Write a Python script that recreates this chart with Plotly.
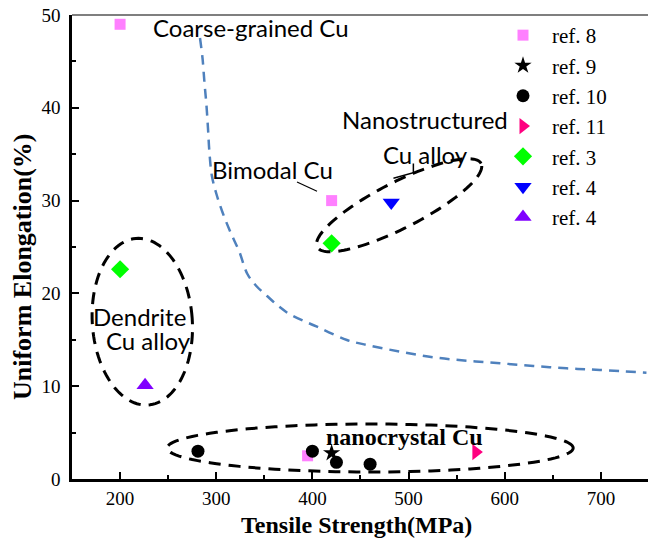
import numpy as np
import plotly.graph_objects as go

# ---------------- data ----------------
ref8_x = [200, 420, 395]
ref8_y = [49.0, 30.0, 2.5]
ref9_x = [420]
ref9_y = [2.8]
ref10_x = [281, 400, 425, 460]
ref10_y = [3.0, 3.0, 1.8, 1.6]
ref11_x = [570]
ref11_y = [2.9]
ref3_x = [200, 420]
ref3_y = [22.6, 25.4]
ref4a_x = [482]
ref4a_y = [29.8]
ref4b_x = [226]
ref4b_y = [10.1]

# blue dashed guide curve
curve_x = [283.1, 285.7, 287.7, 289.8, 291.4, 292.9, 295.5, 300.2, 306.4, 314.7,
           324.1, 332.4, 341.7, 352.9, 364.6, 377.0, 404.8, 435.9, 456.7, 491.3,
           525.9, 560.5, 595.1, 629.7, 664.4, 699.0, 747.4]
curve_y = [47.52, 45.37, 42.78, 40.30, 37.82, 35.24, 32.65, 30.71, 28.77, 26.62,
           24.46, 22.09, 20.80, 19.72, 18.64, 17.72, 16.41, 14.98, 14.44, 13.72,
           13.11, 12.75, 12.47, 12.18, 11.93, 11.75, 11.45]

x_ticks = [200, 300, 400, 500, 600, 700]
y_ticks = [0, 10, 20, 30, 40, 50]

# ---------------- layout geometry ----------------
W, H = 648, 549
ML, MR, MT, MB = 72, 0, 15, 70
XR = [150, 749]
YR = [0, 50]
kx = (W - ML - MR) / (XR[1] - XR[0])   # px per MPa
ky = (H - MT - MB) / (YR[1] - YR[0])   # px per %

SERIF = "Liberation Serif"
SANS = "Lato"


def ellipse_path(cx, cy, a_px, b_px, ang_deg, n=120):
    t = np.linspace(0, 2 * np.pi, n)
    th = np.deg2rad(ang_deg)
    dx = a_px * np.cos(t) * np.cos(th) - b_px * np.sin(t) * np.sin(th)
    dy = a_px * np.cos(t) * np.sin(th) + b_px * np.sin(t) * np.cos(th)
    xs = cx + dx / kx
    ys = cy + dy / ky
    pts = [f"{x:.3f},{y:.3f}" for x, y in zip(xs, ys)]
    return "M " + " L ".join(pts) + " Z"


fig = go.Figure()

fig.add_trace(go.Scatter(x=curve_x, y=curve_y, mode="lines", showlegend=False,
                         line=dict(color="#4F81BD", width=2.5, dash="10px,7px",
                                   shape="spline", smoothing=1.0),
                         hoverinfo="skip"))

series = [
    ("ref. 8", ref8_x, ref8_y, "square", "#FF80FF", 11),
    ("ref. 9", ref9_x, ref9_y, "star", "black", 13),
    ("ref. 10", ref10_x, ref10_y, "circle", "black", 13),
    ("ref. 11", ref11_x, ref11_y, "triangle-right", "#FF0080", 14),
    ("ref. 3", ref3_x, ref3_y, "diamond", "#00FF00", 14),
    ("ref. 4", ref4a_x, ref4a_y, "triangle-down", "#0000FF", 15),
    ("ref. 4 ", ref4b_x, ref4b_y, "triangle-up", "#8000FF", 15),
]
for name, xs, ys, sym, col, sz in series:
    fig.add_trace(go.Scatter(x=xs, y=ys, mode="markers", name=name,
                             marker=dict(symbol=sym, color=col, size=sz,
                                         line=dict(width=0))))

# dashed ellipses
dash_blk = dict(color="black", width=3, dash="12px,8px")
fig.add_shape(type="path", xref="x", yref="y",
              path=ellipse_path(223.1, 16.95, 50, 83.5, 4), line=dash_blk)
fig.add_shape(type="path", xref="x", yref="y",
              path=ellipse_path(460.1, 3.34, 203, 24, 0), line=dash_blk)
fig.add_shape(type="path", xref="x", yref="y",
              path=ellipse_path(490.2, 29.5, 92, 23, 27), line=dash_blk)

# leader lines
fig.add_shape(type="line", xref="x", yref="y", x0=384.0, y0=32.0, x1=404.8, y1=31.0,
              line=dict(color="black", width=1.2))
fig.add_shape(type="path", xref="x", yref="y",
              path="M 484.3,32.4 L 505.0,33.0 L 505.0,34.0",
              line=dict(color="black", width=1.5))

# top frame line
fig.add_shape(type="line", xref="paper", yref="paper", x0=0, x1=1, y0=1, y1=1,
              line=dict(color="black", width=1.2))

# labels
def lab(text, x, y, font, size, bold=False, anchor="center"):
    fig.add_annotation(x=x, y=y, xref="x", yref="y", text=f"<b>{text}</b>" if bold else text,
                       showarrow=False, xanchor=anchor, yanchor="middle",
                       font=dict(family=font, size=size, color="black"))

lab("Coarse-grained Cu", 231.7, 48.7, SANS, 24, anchor="left")
lab("Bimodal Cu", 293.5, 33.3, SANS, 24, anchor="left")
lab("Nanostructured", 517.2, 38.7, SANS, 24)
lab("Cu alloy", 518.0, 35.0, SANS, 24)
lab("Dendrite", 219.7, 17.5, SANS, 24)
lab("Cu alloy", 229.6, 14.9, SANS, 24)
lab("nanocrystal Cu", 495.4, 4.5, SERIF, 24, bold=True)

# axis titles
fig.add_annotation(x=(356 - ML) / (W - ML - MR), y=(H - MB - 525) / (H - MT - MB),
                   xref="paper", yref="paper", text="<b>Tensile Strength(MPa)</b>",
                   showarrow=False, xanchor="center", yanchor="middle",
                   font=dict(family=SERIF, size=24, color="black"))
fig.add_annotation(x=(22 - ML) / (W - ML - MR), y=(H - MB - 267) / (H - MT - MB),
                   xref="paper", yref="paper", text="<b>Uniform Elongation(%)</b>",
                   showarrow=False, xanchor="center", yanchor="middle", textangle=-90,
                   font=dict(family=SERIF, size=26, color="black"))

fig.update_layout(
    width=W, height=H,
    margin=dict(l=ML, r=MR, t=MT, b=MB),
    paper_bgcolor="white", plot_bgcolor="white",
    font=dict(family=SERIF, size=19, color="black"),
    legend=dict(x=(494 - ML) / (W - ML - MR), y=1.0, xanchor="left", yanchor="top",
                bgcolor="rgba(0,0,0,0)", borderwidth=0,
                font=dict(family=SERIF, size=21, color="black"),
                tracegroupgap=0, itemwidth=48),
    xaxis=dict(range=XR, showgrid=False, zeroline=False, showline=True,
               linecolor="black", linewidth=2.5, ticks="inside", ticklen=7,
               tickwidth=2, tickcolor="black", tickvals=x_ticks,
               ticktext=[str(v) for v in x_ticks],
               minor=dict(ticks="inside", ticklen=4, tickwidth=1.5, tickcolor="black", dtick=50,
                          tick0=150),
               tickfont=dict(family=SERIF, size=19)),
    yaxis=dict(range=YR, showgrid=False, zeroline=False, showline=True,
               linecolor="black", linewidth=2.5, ticks="inside", ticklen=7,
               tickwidth=2, tickcolor="black", tickvals=y_ticks,
               ticktext=[str(v) for v in y_ticks],
               minor=dict(ticks="inside", ticklen=4, tickwidth=1.5, tickcolor="black", dtick=5,
                          tick0=0),
               ticklabelstandoff=5,
               tickfont=dict(family=SERIF, size=19)),
)

fig.write_html("out.html", config={"displayModeBar": False},
               post_script="document.body.style.margin='0';document.body.style.padding='0';")
